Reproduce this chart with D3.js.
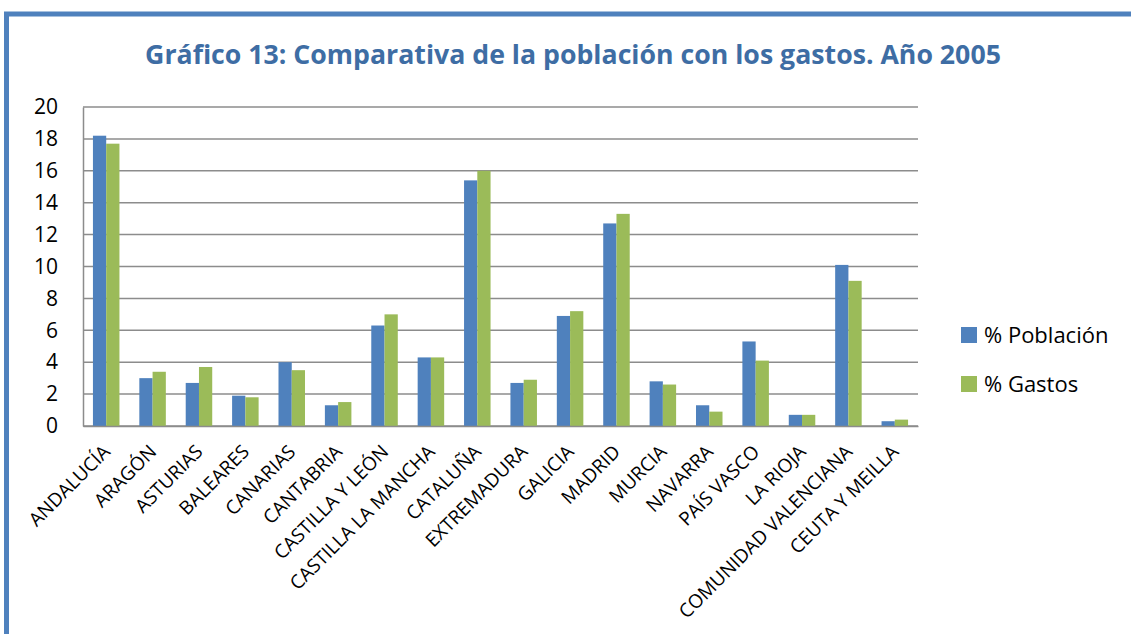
<!DOCTYPE html>
<html>
<head>
<meta charset="utf-8">
<style>
  body { margin: 0; background: #fff; }
  text { font-family: "Open Sans", "Liberation Sans", sans-serif; }
</style>
</head>
<body>
<script src="https://d3js.org/d3.v7.min.js"></script>
<script>
var width = 1131, height = 634;

var regions = ["ANDALUCÍA", "ARAGÓN", "ASTURIAS", "BALEARES", "CANARIAS", "CANTABRIA",
  "CASTILLA Y LEÓN", "CASTILLA LA MANCHA", "CATALUÑA", "EXTREMADURA", "GALICIA", "MADRID",
  "MURCIA", "NAVARRA", "PAÍS VASCO", "LA RIOJA", "COMUNIDAD VALENCIANA", "CEUTA Y MEILLA"];
var poblacion = [18.2, 3.0, 2.7, 1.9, 4.0, 1.3, 6.3, 4.3, 15.4, 2.7, 6.9, 12.7, 2.8, 1.3, 5.3, 0.7, 10.1, 0.3];
var gastos = [17.7, 3.4, 3.7, 1.8, 3.5, 1.5, 7.0, 4.3, 16.0, 2.9, 7.2, 13.3, 2.6, 0.9, 4.1, 0.7, 9.1, 0.4];
var seriesNames = ["% Población", "% Gastos"];
var colors = ["#4F81BD", "#9BBB59"];
var yTicks = [0, 2, 4, 6, 8, 10, 12, 14, 16, 18, 20];

var margin = {left: 83, top: 107, right: 918, bottom: 426};

var svg = d3.select("body").append("svg")
    .attr("width", width)
    .attr("height", height);

// frame
svg.append("rect")
    .attr("x", 6.5).attr("y", 14)
    .attr("width", width + 20).attr("height", height + 20)
    .attr("fill", "none")
    .attr("stroke", "#4F81BD")
    .attr("stroke-width", 5);

svg.append("text")
    .attr("x", 573).attr("y", 64)
    .attr("text-anchor", "middle")
    .style("font-size", "26.7px")
    .style("font-weight", "bold")
    .style("fill", "#3E6DA4")
    .text("Gráfico 13: Comparativa de la población con los gastos. Año 2005");

var x = d3.scaleBand().domain(regions).range([margin.left, margin.right]).paddingInner(0).paddingOuter(0);
var x1 = d3.scaleBand().domain([0, 1]).range([0, x.bandwidth()]).paddingInner(0).paddingOuter(0.75);
var y = d3.scaleLinear().domain([0, 20]).range([margin.bottom, margin.top]);

// gridlines
svg.append("g")
    .selectAll("line")
    .data(yTicks)
    .enter().append("line")
    .attr("x1", margin.left).attr("x2", margin.right)
    .attr("y1", function(d) { return y(d); })
    .attr("y2", function(d) { return y(d); })
    .attr("stroke", "#8C8C8C")
    .attr("stroke-width", 1.5);

// y axis
var yAxis = svg.append("g")
    .attr("transform", "translate(" + margin.left + ",0)")
    .call(d3.axisLeft(y).tickValues(yTicks).tickSize(0).tickPadding(25));
yAxis.select(".domain").attr("stroke", "#8C8C8C").attr("stroke-width", 1.5);
yAxis.selectAll("text").style("font-size", "21px").style("fill", "#000")
    .style("font-family", "'Open Sans', sans-serif");

// bars
var data = regions.map(function(r, i) { return {region: r, vals: [poblacion[i], gastos[i]]}; });
var groups = svg.append("g").selectAll("g")
    .data(data)
    .enter().append("g")
    .attr("transform", function(d) { return "translate(" + x(d.region) + ",0)"; });
groups.selectAll("rect")
    .data(function(d) { return d.vals.map(function(v, k) { return {k: k, v: v}; }); })
    .enter().append("rect")
    .attr("x", function(d) { return x1(d.k); })
    .attr("width", x1.bandwidth())
    .attr("y", function(d) { return y(d.v); })
    .attr("height", function(d) { return y(0) - y(d.v); })
    .attr("fill", function(d) { return colors[d.k]; });

// x axis
var xAxis = svg.append("g")
    .attr("transform", "translate(0," + margin.bottom + ")")
    .call(d3.axisBottom(x).tickSize(0).tickPadding(0));
xAxis.select(".domain").attr("stroke", "#8C8C8C").attr("stroke-width", 1.5);
xAxis.selectAll("text")
    .style("font-size", "19px").style("fill", "#000")
    .style("font-family", "'Open Sans', sans-serif")
    .attr("text-anchor", "end")
    .attr("dy", null)
    .attr("transform", "translate(5,27) rotate(-45)");

// legend
var legend = svg.append("g").selectAll("g")
    .data(seriesNames)
    .enter().append("g")
    .attr("transform", function(d, i) { return "translate(961," + (327 + i * 49) + ")"; });
legend.append("rect").attr("width", 16).attr("height", 16)
    .attr("fill", function(d, i) { return colors[i]; });
legend.append("text").attr("x", 23).attr("y", 16)
    .style("font-size", "22px")
    .text(function(d) { return d; });
</script>
</body>
</html>
